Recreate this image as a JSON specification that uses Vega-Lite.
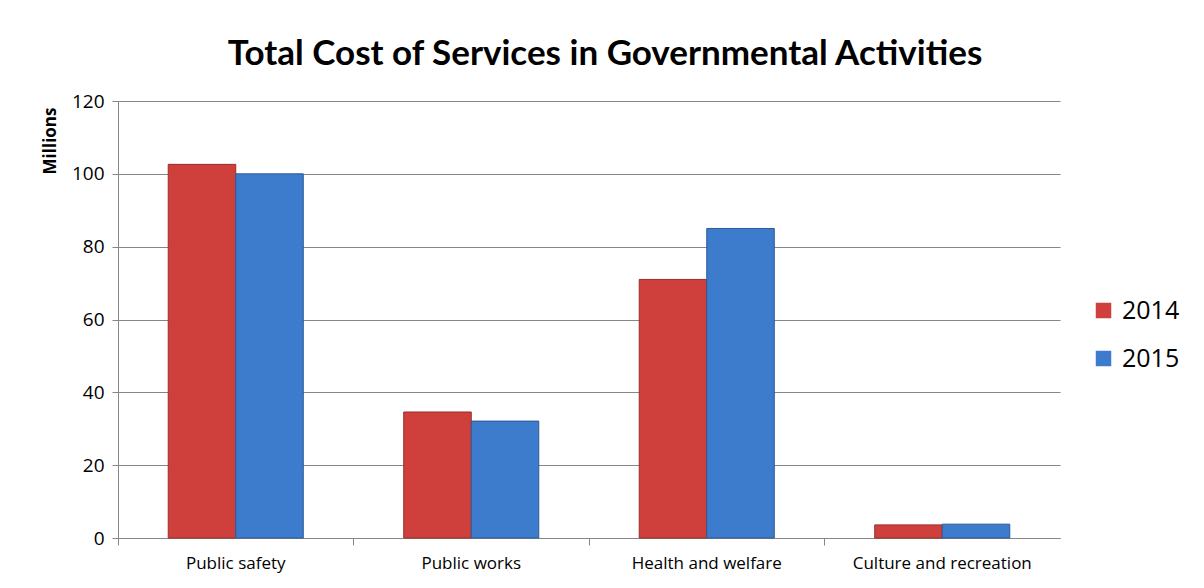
{
  "$schema": "https://vega.github.io/schema/vega-lite/v6.json",
  "autosize": "none",
  "width": 942,
  "height": 437,
  "padding": {"left": 118, "top": 101, "right": 144, "bottom": 50},
  "background": "white",
  "title": {
    "text": "Total Cost of Services in Governmental Activities",
    "font": "Lato",
    "fontSize": 35,
    "fontWeight": "bold",
    "color": "#000000",
    "anchor": "middle",
    "dx": 16,
    "offset": 20
  },
  "data": {
    "values": [
      {"category": "Public safety", "year": "2014", "value": 102.6},
      {"category": "Public safety", "year": "2015", "value": 100.0},
      {"category": "Public works", "year": "2014", "value": 34.6},
      {"category": "Public works", "year": "2015", "value": 32.1},
      {"category": "Health and welfare", "year": "2014", "value": 71.0},
      {"category": "Health and welfare", "year": "2015", "value": 85.0},
      {"category": "Culture and recreation", "year": "2014", "value": 3.6},
      {"category": "Culture and recreation", "year": "2015", "value": 3.8}
    ]
  },
  "mark": {"type": "bar", "strokeWidth": 1},
  "encoding": {
    "x": {
      "field": "category",
      "type": "nominal",
      "sort": null,
      "title": null,
      "scale": {"paddingInner": 0, "paddingOuter": 0},
      "axis": {
        "labelAngle": 0,
        "labelFont": "Open Sans",
        "labelFontSize": 17,
        "labelColor": "#000000",
        "labelPadding": 10,
        "bandPosition": 0,
        "tickSize": 7,
        "tickColor": "#868686",
        "domainColor": "#868686",
        "grid": false
      }
    },
    "xOffset": {
      "field": "year",
      "type": "nominal",
      "scale": {"paddingInner": 0, "paddingOuter": 0.744}
    },
    "y": {
      "field": "value",
      "type": "quantitative",
      "title": "Millions",
      "scale": {"domain": [0, 120], "nice": false},
      "axis": {
        "values": [0, 20, 40, 60, 80, 100, 120],
        "labelFont": "Open Sans",
        "labelFontSize": 19,
        "labelColor": "#000000",
        "labelPadding": 8,
        "tickSize": 6,
        "tickColor": "#868686",
        "domainColor": "#868686",
        "gridColor": "#868686",
        "gridWidth": 1,
        "titleFont": "Open Sans",
        "titleFontSize": 17,
        "titleFontWeight": "bold",
        "titleColor": "#000000",
        "titleAnchor": "end",
        "titleY": 6,
        "titlePadding": 12
      }
    },
    "color": {
      "field": "year",
      "type": "nominal",
      "scale": {"domain": ["2014", "2015"], "range": ["#cf403d", "#3d7bcc"]},
      "legend": {
        "title": null,
        "orient": "none",
        "legendX": 973,
        "legendY": 197,
        "symbolType": "square",
        "symbolSize": 240,
        "symbolStrokeWidth": 0,
        "labelFont": "Open Sans",
        "labelFontSize": 25,
        "labelColor": "#000000",
        "rowPadding": 22,
        "labelOffset": 6
      }
    },
    "stroke": {
      "field": "year",
      "type": "nominal",
      "scale": {"domain": ["2014", "2015"], "range": ["#9a2d2b", "#2c5a96"]},
      "legend": null
    }
  },
  "config": {
    "view": {"stroke": null}
  }
}
